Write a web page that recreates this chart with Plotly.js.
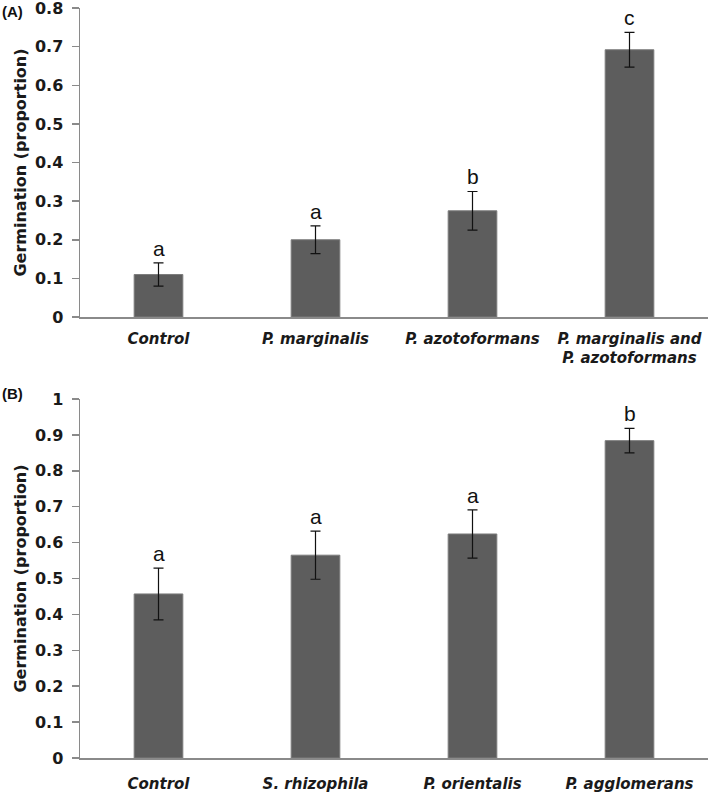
<!DOCTYPE html>
<html><head><meta charset="utf-8">
<script src="https://cdn.plot.ly/plotly-3.0.1.min.js"></script>
<style>body{margin:0;background:#fff;} #chart{width:709px;height:796px;}</style>
</head><body><div id="chart"></div>
<script>
// Panel A data
const categoriesA = ['Control', 'P. marginalis', 'P. azotoformans', 'P. marginalis and<br>P. azotoformans'];
const valuesA = [0.11, 0.20, 0.275, 0.692];
const errorsA = [0.030, 0.036, 0.050, 0.045];
const lettersA = ['a', 'a', 'b', 'c'];
// Panel B data
const categoriesB = ['Control', 'S. rhizophila', 'P. orientalis', 'P. agglomerans'];
const valuesB = [0.457, 0.565, 0.624, 0.884];
const errorsB = [0.072, 0.067, 0.067, 0.034];
const lettersB = ['a', 'a', 'a', 'b'];
const yTitle = 'Germination (proportion)';
const panelLabels = ['(A)', '(B)'];

const barColor = '#5d5d5d';
const axisColor = '#8a8a8a';
const tickFontY = {family: 'DejaVu Sans, Verdana, sans-serif', size: 16, color: '#1a1a1a', weight: 'bold'};
const tickFontX = {family: 'DejaVu Sans, Verdana, sans-serif', size: 15, color: '#1a1a1a', weight: 'bold', style: 'italic'};
const titleFont = {family: 'DejaVu Sans, Verdana, sans-serif', size: 16, color: '#1a1a1a', weight: 'bold'};
const letterFont = {family: 'Liberation Sans, Arial, sans-serif', size: 21, color: '#111'};
const panelFont = {family: 'Liberation Sans, Arial, sans-serif', size: 15, color: '#111', weight: 'bold'};

function barTrace(cats, vals, errs, xa, ya) {
  return {
    type: 'bar', x: cats, y: vals, xaxis: xa, yaxis: ya,
    marker: {color: barColor, line: {color: '#7c7c7c', width: 1}},
    error_y: {type: 'data', array: errs, visible: true, color: '#111', thickness: 1.2, width: 5},
    hoverinfo: 'none', showlegend: false
  };
}

const data = [
  barTrace(categoriesA, valuesA, errorsA, 'x', 'y'),
  barTrace(categoriesB, valuesB, errorsB, 'x2', 'y2')
];

const annotations = [];
lettersA.forEach((t, i) => annotations.push({
  xref: 'x', yref: 'y', x: categoriesA[i], y: valuesA[i] + errorsA[i], text: t,
  showarrow: false, yanchor: 'bottom', yshift: 1, font: letterFont
}));
lettersB.forEach((t, i) => annotations.push({
  xref: 'x2', yref: 'y2', x: categoriesB[i], y: valuesB[i] + errorsB[i], text: t,
  showarrow: false, yanchor: 'bottom', yshift: 1, font: letterFont
}));
annotations.push({xref: 'paper', yref: 'paper', x: -0.1274, y: 1.0093, xanchor: 'left', yanchor: 'top',
  text: panelLabels[0], showarrow: false, font: panelFont});
annotations.push({xref: 'paper', yref: 'paper', x: -0.1274, y: 0.50, xanchor: 'left', yanchor: 'top',
  text: panelLabels[1], showarrow: false, font: panelFont});

function yAxis(range, domain, anchor) {
  return {
    domain: domain, range: range, dtick: 0.1, tick0: 0, anchor: anchor,
    showgrid: false, zeroline: false, showline: true, linecolor: axisColor, linewidth: 1.5,
    ticks: 'outside', ticklen: 7, tickwidth: 1.5, tickcolor: axisColor,
    tickfont: tickFontY, fixedrange: true, ticklabeloverflow: 'allow', ticklabelstandoff: 5,
    title: {text: yTitle, font: titleFont, standoff: 4}
  };
}
function xAxis(anchor, standoff) {
  return {
    anchor: anchor, showgrid: false, zeroline: false, showline: true, linecolor: axisColor, linewidth: 1.5,
    ticks: '', tickfont: tickFontX, fixedrange: true, ticklabelstandoff: standoff
  };
}

const layout = {
  width: 709, height: 796,
  margin: {l: 80, r: 1, t: 8, b: 38},
  paper_bgcolor: '#fff', plot_bgcolor: '#fff',
  bargap: 0.69,
  xaxis: xAxis('y', 7),
  yaxis: yAxis([0, 0.8001], [0.588, 1], 'x'),
  xaxis2: xAxis('y2', 11),
  yaxis2: yAxis([0, 1.0001], [0, 0.4787], 'x2'),
  annotations: annotations
};

Plotly.newPlot('chart', data, layout, {displayModeBar: false, staticPlot: true});
</script>
</body></html>
